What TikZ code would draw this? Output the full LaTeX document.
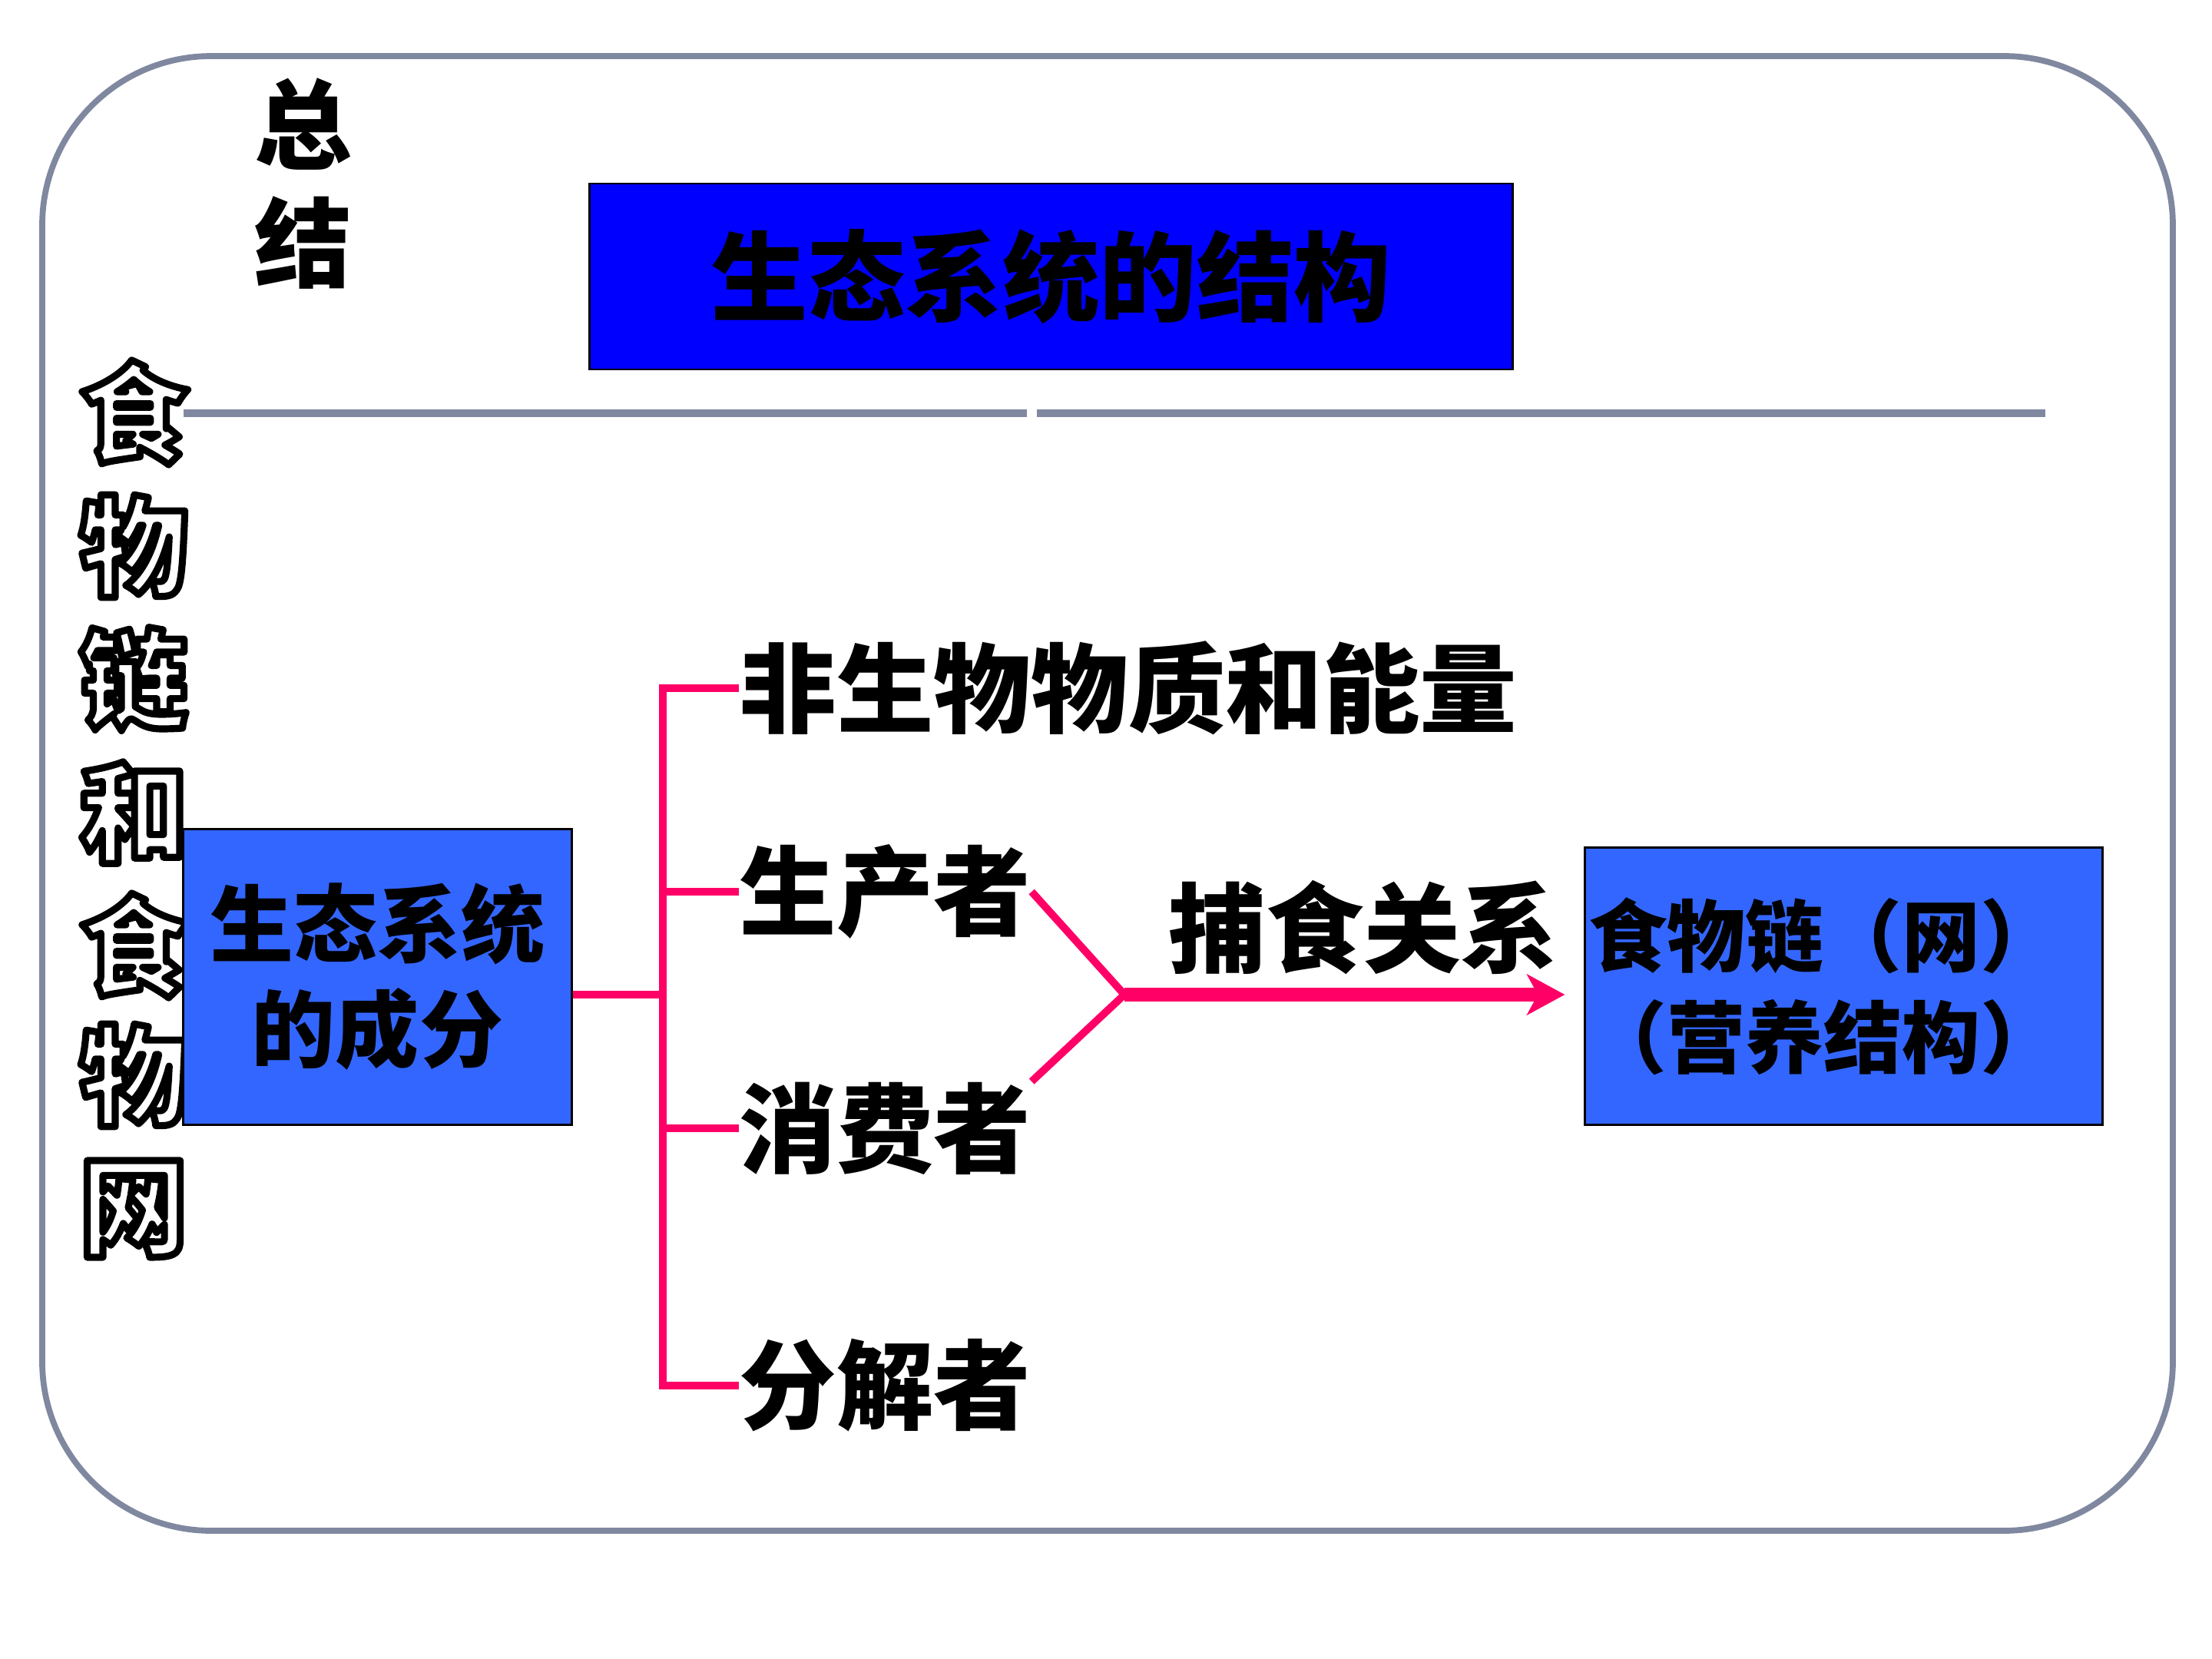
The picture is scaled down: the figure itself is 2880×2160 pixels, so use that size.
\documentclass[tikz,border=0pt]{standalone}
\usepackage{fontspec}
\setmainfont{Noto Sans CJK SC}
\usetikzlibrary{arrows.meta}
\definecolor{framegray}{RGB}{128,136,160}
\definecolor{pinkc}{RGB}{255,0,102}
\definecolor{boxblue}{RGB}{51,102,255}
\definecolor{titleblue}{RGB}{0,0,255}
\newcommand\olchar[1]{\textcolor{white}{\special{pdf:literal direct 2 Tr 2.6 w 1 j 0 G}#1\special{pdf:literal direct 0 Tr}}}
\begin{document}
\begin{tikzpicture}[x=0.01cm,y=-0.01cm,
  frame/.style={draw=framegray, line width=2.2pt, rounded corners=2.2cm},
  sepline/.style={draw=framegray, line width=2.6pt},
  titlebox/.style={draw=black, line width=0.8pt, fill=titleblue, minimum width=12.01cm, minimum height=2.42cm, inner sep=0pt, font=\bfseries\fontsize{36}{40}\selectfont},
  bluebox/.style={draw=black, line width=0.8pt, fill=boxblue, inner sep=0pt},
  lbl/.style={inner sep=0pt, anchor=west, font=\bfseries\fontsize{36}{40}\selectfont},
  headch/.style={inner sep=0pt, font=\bfseries\fontsize{36}{40}\selectfont},
  olch/.style={inner sep=0pt, font=\bfseries\fontsize{40}{40}\selectfont},
  pinkln/.style={draw=pinkc, line width=2.8pt},
  arrowln/.style={draw=pinkc, line width=5.2pt, -{Stealth[length=14pt, width=15pt, inset=4pt]}}
]
\useasboundingbox (0,0) rectangle (2880,2160);
% outer frame
\draw[frame] (55,73) rectangle (2829,1993);
% separator line
\draw[sepline] (239,538) -- (1337,538);
\draw[sepline] (1350,538) -- (2663,538);
% heading
\node[headch] (h1) at (395,162) {总};
\node[headch] (h2) at (395,316) {结};
% title box
\node[titlebox] (title) at (1368.5,360) {生态系统的结构};
% vertical outline text
\node[olch] (v1) at (174,537) {\olchar{食}};
\node[olch] (v2) at (174,711) {\olchar{物}};
\node[olch] (v3) at (174,884) {\olchar{链}};
\node[olch] (v4) at (174,1058) {\olchar{和}};
\node[olch] (v5) at (174,1231) {\olchar{食}};
\node[olch] (v6) at (174,1400) {\olchar{物}};
\node[olch] (v7) at (174,1574) {\olchar{网}};
% left box
\node[bluebox, minimum width=5.05cm, minimum height=3.84cm, align=center,
      font=\bfseries\fontsize{31}{39}\selectfont] (lbox) at (491.5,1272) {生态系统\\的成分};
% component labels
\node[lbl] (t1) at (962,896) {非生物物质和能量};
\node[lbl] (t2) at (962,1161) {生产者};
\node[lbl] (t3) at (962,1469) {消费者};
\node[lbl] (t4) at (962,1804) {分解者};
% right box
\node[bluebox, minimum width=6.73cm, minimum height=3.6cm, text width=6.63cm, inner xsep=0.05cm, align=left,
      font=\bfseries\fontsize{29}{37.5}\selectfont] (rbox) at (2400.5,1284) {食物链（网）\\（营养结构）};
% relation label
\node[lbl, anchor=center] (rel) at (1775,1207) {捕食关系};
% connectors
\coordinate (J) at (863,1295);
\coordinate (K) at (1464,1295);
\draw[pinkln] (J -| lbox.east) -- (J);
\draw[pinkln] (t1.west) -- (t1.west -| J) -- (t4.west -| J) -- (t4.west);
\draw[pinkln] (t2.west) -- (t2.west -| J);
\draw[pinkln] (t3.west) -- (t3.west -| J);
\draw[pinkln] (t2.east) -- (K);
\draw[pinkln] (t3.north east) -- (K);
\draw[arrowln, shorten >=0.25cm] (K) -- (K -| rbox.west);
\end{tikzpicture}
\end{document}
